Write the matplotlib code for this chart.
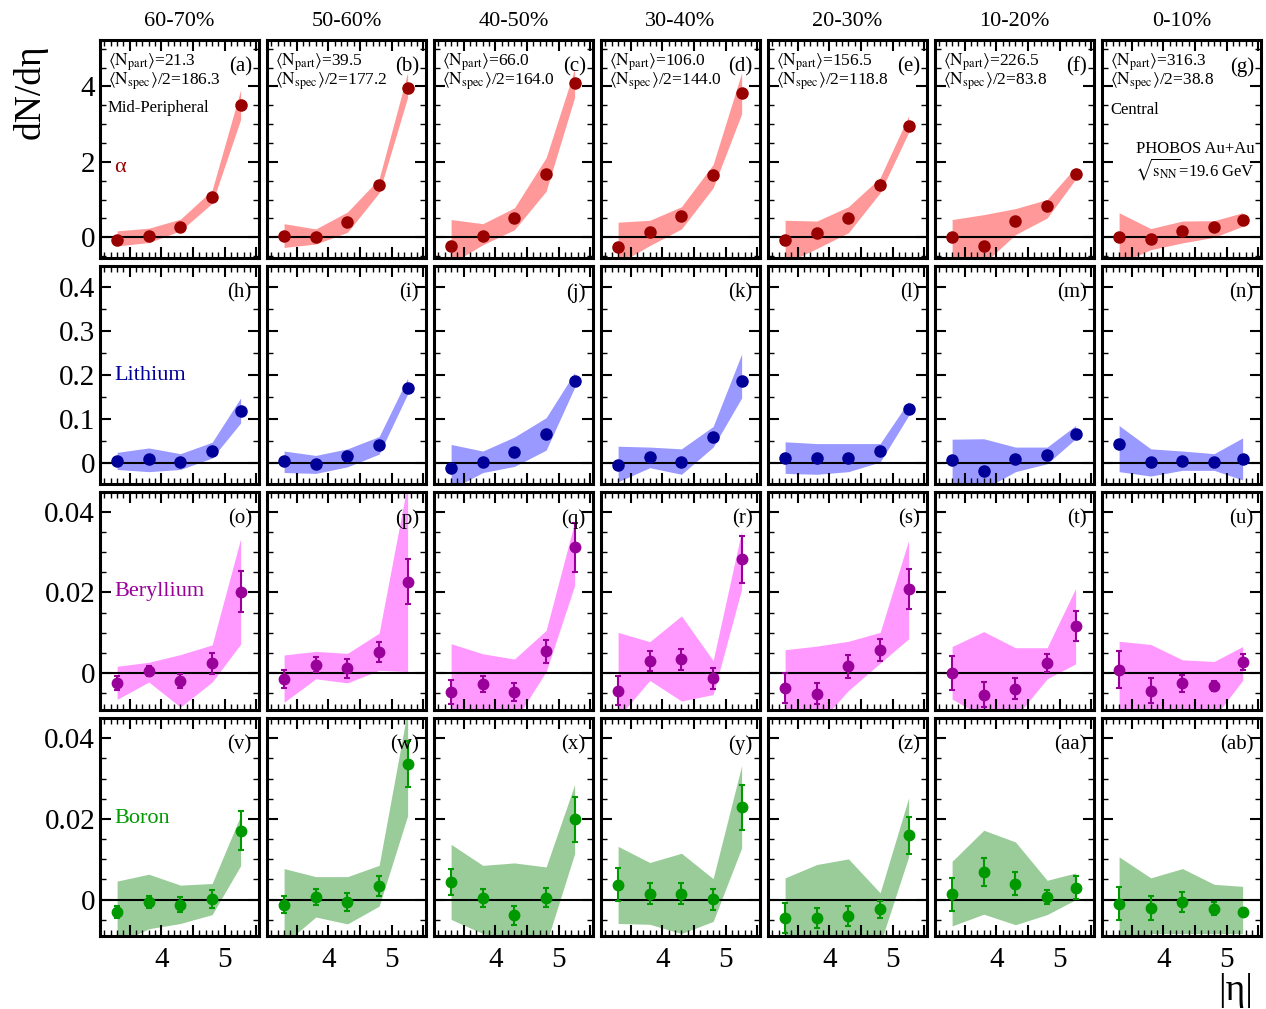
import matplotlib
matplotlib.use("Agg")
import matplotlib.pyplot as plt
from matplotlib.ticker import MultipleLocator, FuncFormatter

plt.rcParams['font.family'] = ['Liberation Serif', 'DejaVu Serif']
plt.rcParams['mathtext.fontset'] = 'stix'

# |eta| bin centres
eta = [3.3, 3.8, 4.3, 4.8, 5.25]

centrality = ["60-70%", "50-60%", "40-50%", "30-40%", "20-30%", "10-20%", "0-10%"]
npart = ["21.3", "39.5", "66.0", "106.0", "156.5", "226.5", "316.3"]
nspec = ["186.3", "177.2", "164.0", "144.0", "118.8", "83.8", "38.8"]
letters = ["a", "b", "c", "d", "e", "f", "g", "h", "i", "j", "k", "l", "m", "n",
           "o", "p", "q", "r", "s", "t", "u", "v", "w", "x", "y", "z", "aa", "ab"]

# alpha
alpha_y = [[-0.07, 0.04, 0.26, 1.06, 3.50],
           [0.04, 0.00, 0.40, 1.38, 3.96],
           [-0.22, 0.04, 0.51, 1.69, 4.08],
           [-0.26, 0.13, 0.56, 1.64, 3.82],
           [-0.08, 0.10, 0.51, 1.38, 2.95],
           [0.00, -0.24, 0.42, 0.84, 1.69],
           [0.00, -0.04, 0.16, 0.27, 0.47]]
alpha_hi = [[0.17, 0.24, 0.48, 1.25, 3.91],
            [0.36, 0.22, 0.67, 1.55, 4.37],
            [0.47, 0.36, 0.78, 2.11, 4.46],
            [0.40, 0.45, 0.81, 1.93, 4.36],
            [0.45, 0.43, 0.81, 1.58, 3.22],
            [0.47, 0.60, 0.76, 1.00, 1.86],
            [0.65, 0.23, 0.43, 0.44, 0.65]]
alpha_lo = [[-0.23, -0.14, 0.17, 0.90, 3.12],
            [-0.27, -0.18, 0.13, 1.18, 3.71],
            [-0.70, -0.20, 0.20, 1.22, 3.71],
            [-0.70, -0.22, 0.22, 1.31, 3.27],
            [-0.70, -0.30, 0.12, 1.18, 2.78],
            [-0.70, -0.70, 0.07, 0.51, 1.54],
            [-0.70, -0.33, -0.15, 0.00, 0.29]]

# lithium
li_y = [[0.004, 0.008, 0.002, 0.028, 0.119],
        [0.004, -0.003, 0.015, 0.040, 0.171],
        [-0.011, 0.002, 0.025, 0.065, 0.187],
        [-0.005, 0.014, 0.002, 0.059, 0.187],
        [0.012, 0.010, 0.012, 0.026, 0.123],
        [0.006, -0.019, 0.008, 0.019, 0.066],
        [0.042, 0.001, 0.004, 0.002, 0.008]]
li_hi = [[0.024, 0.034, 0.021, 0.047, 0.148],
         [0.027, 0.017, 0.032, 0.060, 0.193],
         [0.042, 0.027, 0.059, 0.103, 0.206],
         [0.038, 0.036, 0.032, 0.083, 0.248],
         [0.048, 0.044, 0.044, 0.044, 0.140],
         [0.054, 0.055, 0.036, 0.036, 0.085],
         [0.085, 0.032, 0.027, 0.021, 0.057]]
li_lo = [[-0.015, -0.020, -0.015, 0.011, 0.091],
         [-0.022, -0.024, -0.009, 0.020, 0.157],
         [-0.060, -0.022, -0.008, 0.029, 0.172],
         [-0.043, -0.011, -0.026, 0.036, 0.148],
         [-0.024, -0.026, -0.020, 0.002, 0.108],
         [-0.060, -0.060, -0.020, -0.002, 0.055],
         [-0.020, -0.030, -0.017, -0.017, -0.039]]

# beryllium
be_y = [[-0.0024, 0.0005, -0.0020, 0.0025, 0.0202],
        [-0.0014, 0.0021, 0.0012, 0.0052, 0.0227],
        [-0.0047, -0.0026, -0.0047, 0.0054, 0.0312],
        [-0.0043, 0.0030, 0.0035, -0.0012, 0.0282],
        [-0.0036, -0.0051, 0.0017, 0.0058, 0.0208],
        [0.0000, -0.0054, -0.0039, 0.0026, 0.0116],
        [0.0009, -0.0043, -0.0025, -0.0031, 0.0027]]
be_err = [[0.0017, 0.0012, 0.0017, 0.0026, 0.0051],
          [0.0023, 0.0019, 0.0024, 0.0025, 0.0056],
          [0.0029, 0.0020, 0.0022, 0.0028, 0.0061],
          [0.0036, 0.0025, 0.0026, 0.0026, 0.0058],
          [0.0037, 0.0026, 0.0028, 0.0027, 0.0049],
          [0.0042, 0.0031, 0.0026, 0.0022, 0.0037],
          [0.0045, 0.0030, 0.0021, 0.0012, 0.0020]]
be_hi = [[0.0017, 0.0027, 0.0046, 0.0070, 0.0333],
         [0.0045, 0.0054, 0.0049, 0.0099, 0.0470],
         [0.0073, 0.0048, 0.0035, 0.0106, 0.0374],
         [0.0101, 0.0078, 0.0142, 0.0031, 0.0352],
         [0.0058, 0.0067, 0.0079, 0.0101, 0.0329],
         [0.0066, 0.0103, 0.0063, 0.0063, 0.0210],
         [0.0079, 0.0071, 0.0033, 0.0029, 0.0066]]
be_lo = [[-0.0065, -0.0022, -0.0084, -0.0022, 0.0072],
         [-0.0072, -0.0014, -0.0024, 0.0007, 0.0004],
         [-0.0120, -0.0120, -0.0120, 0.0004, 0.0217],
         [-0.0110, -0.0018, -0.0069, -0.0053, 0.0208],
         [-0.0110, -0.0130, -0.0043, 0.0025, 0.0085],
         [-0.0064, -0.0110, -0.0110, -0.0014, 0.0023],
         [-0.0110, -0.0110, -0.0110, -0.0110, -0.0018]]

# boron
b_y = [[-0.0030, -0.0006, -0.0012, 0.0002, 0.0171],
       [-0.0012, 0.0007, -0.0005, 0.0034, 0.0337],
       [0.0044, 0.0004, -0.0039, 0.0005, 0.0199],
       [0.0037, 0.0015, 0.0015, 0.0001, 0.0229],
       [-0.0045, -0.0045, -0.0040, -0.0024, 0.0159],
       [0.0013, 0.0068, 0.0040, 0.0007, 0.0030],
       [-0.0010, -0.0021, -0.0006, -0.0022, -0.0031]]
b_err = [[0.0015, 0.0015, 0.0018, 0.0022, 0.0048],
         [0.0022, 0.0019, 0.0022, 0.0025, 0.0057],
         [0.0032, 0.0023, 0.0023, 0.0023, 0.0056],
         [0.0041, 0.0026, 0.0026, 0.0026, 0.0056],
         [0.0037, 0.0024, 0.0024, 0.0021, 0.0045],
         [0.0040, 0.0035, 0.0029, 0.0017, 0.0028],
         [0.0041, 0.0029, 0.0024, 0.0016, 0.0008]]
b_hi = [[0.0046, 0.0063, 0.0036, 0.0040, 0.0208],
        [0.0077, 0.0057, 0.0057, 0.0085, 0.0470],
        [0.0137, 0.0085, 0.0091, 0.0081, 0.0285],
        [0.0132, 0.0092, 0.0115, 0.0052, 0.0332],
        [0.0054, 0.0087, 0.0101, 0.0017, 0.0252],
        [0.0095, 0.0172, 0.0143, 0.0048, 0.0066],
        [0.0106, 0.0054, 0.0077, 0.0038, 0.0033]]
b_lo = [[-0.0110, -0.0072, -0.0059, -0.0037, 0.0084],
        [-0.0110, -0.0043, -0.0060, -0.0016, 0.0208],
        [-0.0049, -0.0084, -0.0110, -0.0110, 0.0114],
        [-0.0059, -0.0061, -0.0084, -0.0054, 0.0128],
        [-0.0110, -0.0110, -0.0110, -0.0110, 0.0106],
        [-0.0065, -0.0036, -0.0062, -0.0037, 0.0000],
        [-0.0110, -0.0084, -0.0084, -0.0084, -0.0084]]

species = ["\u03b1", "Lithium", "Beryllium", "Boron"]
label_y = [1.85, 0.2, 0.0203, 0.02]
pt_col = ["#990000", "#000099", "#990099", "#009900"]
band_col = ["#ff9999", "#9999ff", "#ff99ff", "#99cc99"]
ylims = [(-0.55, 5.23), (-0.047, 0.45), (-0.009, 0.045), (-0.009, 0.045)]
ymajor = [2, 0.1, 0.02, 0.02]
yminor = [0.5, 0.05, 0.005, 0.005]

vals = [alpha_y, li_y, be_y, b_y]
errs = [None, None, be_err, b_err]
his = [alpha_hi, li_hi, be_hi, b_hi]
los = [alpha_lo, li_lo, be_lo, b_lo]

W, H = 1266, 1009
fig = plt.figure(figsize=(W / 100, H / 100), dpi=100)

tops = [40, 265.5, 491.5, 718]
ph = 218
pw = 159

def yfmt(v, pos):
    return "%g" % round(v, 4)

def xfmt(v, pos):
    if abs(v - round(v)) < 1e-6:
        return "%d" % round(v)
    return ""

for r in range(4):
    for c in range(7):
        left = 100 + c * 167
        ax = fig.add_axes([left / W, 1 - (tops[r] + ph) / H, pw / W, ph / H])
        ax.fill_between(eta, los[r][c], his[r][c], color=band_col[r], lw=0, zorder=1)
        ax.axhline(0, color="black", lw=1.5, zorder=2)
        if errs[r] is None:
            ax.plot(eta, vals[r][c], "o", color=pt_col[r], ms=8, zorder=3)
        else:
            ax.errorbar(eta, vals[r][c], yerr=errs[r][c], fmt="o", color=pt_col[r],
                        ms=7.5, elinewidth=1.5, capsize=2.5, capthick=1.5, zorder=3)
        ax.set_xlim(3.03, 5.54)
        ax.set_ylim(*ylims[r])
        ax.xaxis.set_major_locator(MultipleLocator(0.5))
        ax.xaxis.set_minor_locator(MultipleLocator(0.1))
        ax.yaxis.set_major_locator(MultipleLocator(ymajor[r]))
        ax.yaxis.set_minor_locator(MultipleLocator(yminor[r]))
        ax.tick_params(which="both", direction="in", top=True, right=True)
        ax.tick_params(which="major", length=8, width=1.5, labelsize=21)
        ax.tick_params(which="minor", length=4, width=1)
        for s in ax.spines.values():
            s.set_linewidth(2.2)
        if c == 0:
            ax.yaxis.set_major_formatter(FuncFormatter(yfmt))
            ax.text(3.26, label_y[r], species[r], color=pt_col[r], fontsize=16,
                    ha="left", va="center")
        else:
            ax.set_yticklabels([])
        if r == 3:
            ax.xaxis.set_major_formatter(FuncFormatter(xfmt))
            ax.tick_params(axis="x", pad=8)
        else:
            ax.set_xticklabels([])
        ax.text(0.955, 0.875, "(%s)" % letters[r * 7 + c], transform=ax.transAxes,
                ha="right", va="center", fontsize=15)
        if r == 0:
            ax.text(0.5, 1.04, centrality[c], transform=ax.transAxes,
                    ha="center", va="bottom", fontsize=16)
            ax.text(0.05, 0.9,
                    r"$\langle\mathrm{N}_{\mathrm{part}}\rangle$=" + npart[c],
                    transform=ax.transAxes, ha="left", va="center", fontsize=12.5)
            ax.text(0.05, 0.81,
                    r"$\langle\mathrm{N}_{\mathrm{spec}}\rangle$/2=" + nspec[c],
                    transform=ax.transAxes, ha="left", va="center", fontsize=12.5)
            if c == 0:
                ax.text(0.05, 0.69, "Mid-Peripheral", transform=ax.transAxes,
                        ha="left", va="center", fontsize=12)
            if c == 6:
                ax.text(0.05, 0.68, "Central", transform=ax.transAxes,
                        ha="left", va="center", fontsize=12)
                ax.text(0.96, 0.5, "PHOBOS Au+Au", transform=ax.transAxes,
                        ha="right", va="center", fontsize=12)
                ax.text(0.96, 0.41,
                        r"$\sqrt{\mathrm{s}_{\mathrm{NN}}}$=19.6 GeV",
                        transform=ax.transAxes, ha="right", va="center", fontsize=12)

fig.text(30 / W, 1 - 92 / H, "dN/d\u03b7", rotation=90, ha="center", va="center",
         fontsize=27)
fig.text(1236 / W, 1 - 990 / H, "|\u03b7|", ha="center", va="center", fontsize=27)

fig.savefig("out.png", dpi=100)
